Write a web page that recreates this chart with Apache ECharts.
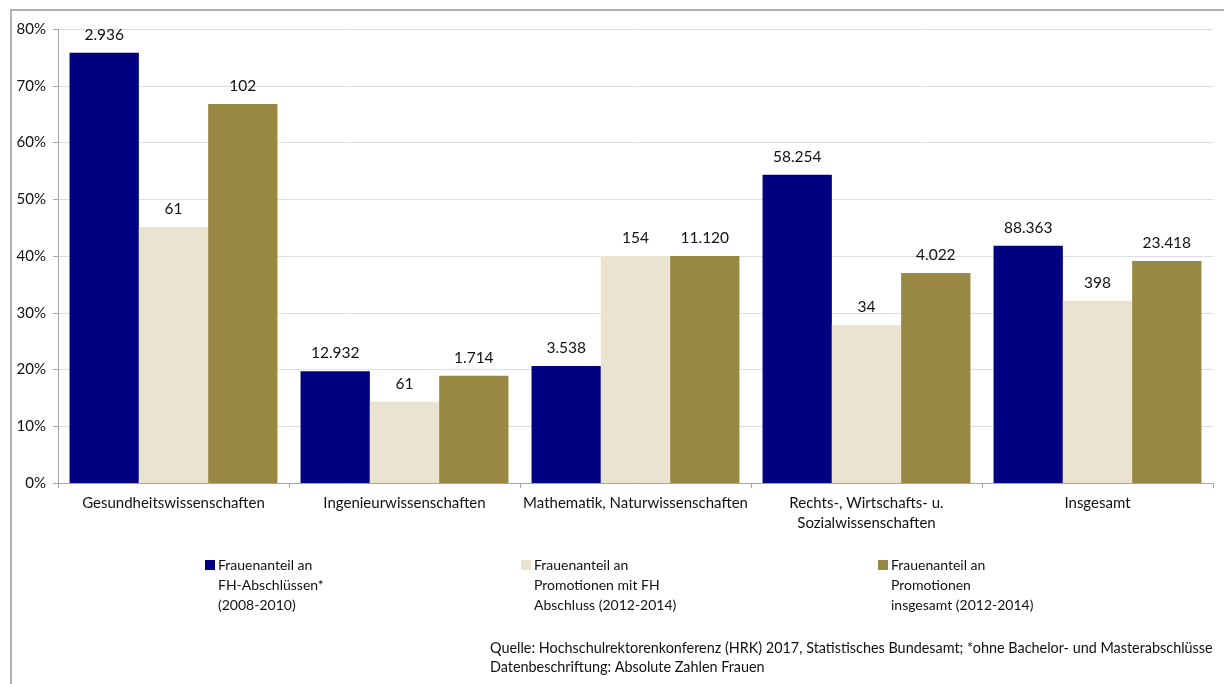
<!DOCTYPE html>
<html><head><meta charset="utf-8">
<script src="https://cdn.jsdelivr.net/npm/echarts@6/dist/echarts.min.js"></script>
<style>html,body{margin:0;padding:0;background:#fff}#c{width:1224px;height:684px}</style>
</head><body><div id="c"></div>
<script>
const categories = ["Gesundheitswissenschaften", "Ingenieurwissenschaften", "Mathematik, Naturwissenschaften", "Rechts-, Wirtschafts- u.\nSozialwissenschaften", "Insgesamt"];
const seriesNames = ["Frauenanteil an\nFH-Abschlüssen*\n(2008-2010)", "Frauenanteil an\nPromotionen mit FH\nAbschluss (2012-2014)", "Frauenanteil an\nPromotionen\ninsgesamt (2012-2014)"];
const shareFH = [75.8, 19.7, 20.6, 54.3, 41.8];
const sharePromFH = [45.1, 14.3, 40.0, 27.8, 32.1];
const sharePromAll = [66.8, 18.9, 40.0, 37.0, 39.1];
const countFH = ["2.936", "12.932", "3.538", "58.254", "88.363"];
const countPromFH = ["61", "61", "154", "34", "398"];
const countPromAll = ["102", "1.714", "11.120", "4.022", "23.418"];
const yTicks = [0, 10, 20, 30, 40, 50, 60, 70, 80];
const colors = ["#000080", "#E9E3CF", "#998843"];
const FONT = "Lato";

const values = [shareFH, sharePromFH, sharePromAll];
const counts = [countFH, countPromFH, countPromAll];
const legendX = [200, 516, 873];
// square at the top line of a 3-line legend entry
const legendIcon = 'path://M0,0L0.01,0M0,5L10,5L10,15L0,15ZM0,60L0.01,60';

const chart = echarts.init(document.getElementById('c'), null, {renderer: 'canvas'});
chart.setOption({
  animation: false,
  textStyle: {fontFamily: FONT},
  grid: {left: 58, right: 11, top: 29, bottom: 201, containLabel: false},
  xAxis: {
    type: 'category', data: categories,
    axisLine: {lineStyle: {color: '#a6a6a6', width: 1}},
    axisTick: {show: true, length: 5, lineStyle: {color: '#a6a6a6'}},
    axisLabel: {color: '#111', fontSize: 15, fontFamily: FONT, margin: 10, lineHeight: 20, interval: 0}
  },
  yAxis: {
    type: 'value', min: yTicks[0], max: yTicks[yTicks.length - 1], interval: 10,
    axisLine: {show: true, lineStyle: {color: '#a6a6a6'}},
    axisTick: {show: true, length: 5, lineStyle: {color: '#a6a6a6'}},
    splitLine: {lineStyle: {color: '#dedede'}},
    axisLabel: {color: '#111', fontSize: 15, fontFamily: FONT, margin: 12, formatter: v => v + '%'}
  },
  legend: seriesNames.map((n, i) => ({
    data: [n], left: legendX[i], top: 550, orient: 'vertical',
    itemWidth: 10, itemHeight: 60, itemGap: 0, icon: legendIcon,
    textStyle: {fontSize: 14, color: '#111', lineHeight: 20, fontFamily: FONT, padding: [0, 0, 0, -2]},
    selectedMode: false
  })),
  series: values.map((d, i) => ({
    type: 'bar', name: seriesNames[i], data: d,
    barGap: '0%', barCategoryGap: '10%',
    itemStyle: {color: colors[i]},
    label: {show: true, position: 'top', distance: 10, color: '#111', fontSize: 15.5, fontFamily: FONT,
      formatter: p => counts[i][p.dataIndex]}
  })),
  graphic: [
    {type: 'rect', shape: {x: 11, y: 10, width: 1400, height: 1000}, style: {fill: 'none', stroke: '#b0b0b0', lineWidth: 2}, silent: true},
    {type: 'text', left: 490, top: 639, style: {text: 'Quelle: Hochschulrektorenkonferenz (HRK) 2017, Statistisches Bundesamt; *ohne Bachelor- und Masterabschlüsse\nDatenbeschriftung: Absolute Zahlen Frauen', font: '14.4px ' + FONT, fill: '#111', lineHeight: 19}}
  ]
});
</script></body></html>
